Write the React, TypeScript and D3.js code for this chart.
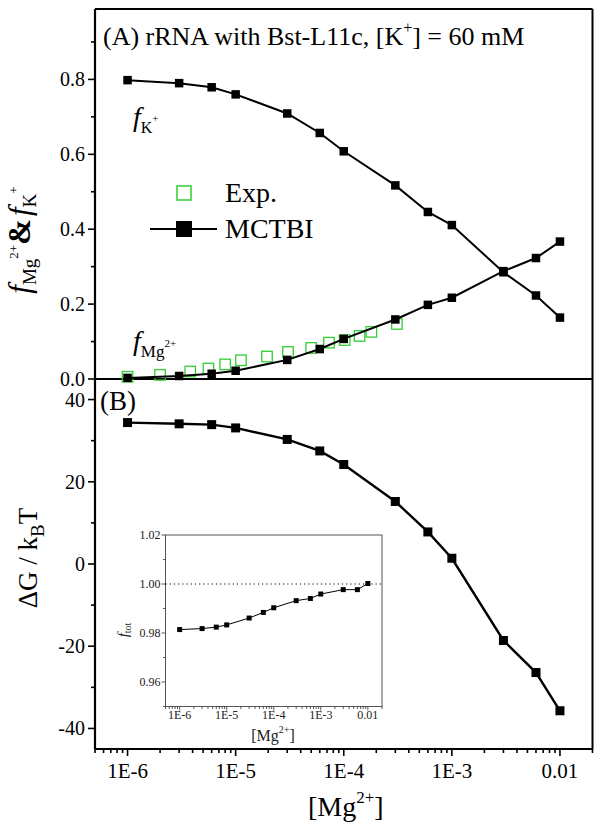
import React from 'react';
import * as d3 from 'd3';

// ---------- data ----------
const mgConc = [1e-6, 3e-6, 6e-6, 1e-5, 3e-5, 6e-5, 1e-4, 3e-4, 6e-4, 1e-3, 3e-3, 6e-3, 1e-2];
const fK = [0.798, 0.79, 0.779, 0.76, 0.709, 0.657, 0.608, 0.517, 0.446, 0.411, 0.285, 0.223, 0.164];
const fMg = [0.003, 0.008, 0.014, 0.022, 0.051, 0.08, 0.107, 0.159, 0.198, 0.217, 0.288, 0.323, 0.367];
const expConc = [1e-6, 2e-6, 3.8e-6, 5.6e-6, 8e-6, 1.12e-5, 1.95e-5, 3.05e-5, 5e-5, 7.3e-5, 1.02e-4, 1.4e-4, 1.8e-4, 3.1e-4];
const expFMg = [0.006, 0.011, 0.02, 0.028, 0.039, 0.05, 0.06, 0.072, 0.083, 0.097, 0.104, 0.115, 0.126, 0.147];
const deltaG = [34.4, 34.1, 33.9, 33.1, 30.3, 27.5, 24.2, 15.2, 7.8, 1.4, -18.6, -26.4, -35.7];
const fTot = [0.9814, 0.9818, 0.9824, 0.9833, 0.9861, 0.9884, 0.9903, 0.9932, 0.9941, 0.9959, 0.9977, 0.9977, 1.0002];

const xTicks = [1e-6, 1e-5, 1e-4, 1e-3, 1e-2];
const xTickLabels = ['1E-6', '1E-5', '1E-4', '1E-3', '0.01'];
const topYTicks = [0, 0.2, 0.4, 0.6, 0.8];
const topYTickLabels = ['0.0', '0.2', '0.4', '0.6', '0.8'];
const topYMinor = [0.1, 0.3, 0.5, 0.7, 0.9];
const botYTicks = [-40, -20, 0, 20, 40];
const botYTickLabels = ['-40', '-20', '0', '20', '40'];
const botYMinor = [-30, -10, 10, 30];
const insetYTicks = [0.96, 0.98, 1.0, 1.02];
const insetYTickLabels = ['0.96', '0.98', '1.00', '1.02'];
const insetYMinor = [0.95, 0.97, 0.99, 1.01];

const SERIF = '"Liberation Serif", "Times New Roman", Times, serif';
const GREEN = '#33cc33';

// ---------- layout ----------
const L = 95, R = 592.5, T = 9, MID = 379, B = 749;
const xDomain: [number, number] = [5e-7, 2e-2];

function minorLogTicks(domain: [number, number]) {
  const out: number[] = [];
  for (let e = -8; e <= -1; e++) {
    for (let m = 2; m <= 9; m++) {
      const v = m * Math.pow(10, e);
      if (v >= domain[0] && v <= domain[1]) out.push(v);
    }
  }
  return out;
}

export default function App() {
  const x = d3.scaleLog().domain(xDomain).range([L, R]);
  const yTop = d3.scaleLinear().domain([0, 0.988]).range([MID, T]);
  const yBot = d3.scaleLinear().domain([-45, 45]).range([B, MID]);

  const IL = 165.5, IR = 382, IT = 535, IB = 706.5;
  const xi = d3.scaleLog().domain(xDomain).range([IL, IR]);
  const yi = d3.scaleLinear().domain([0.95, 1.02]).range([IB, IT]);

  const lineK = d3.line<number>().x((_, i) => x(mgConc[i])).y((d) => yTop(d))(fK) || '';
  const lineMg = d3.line<number>().x((_, i) => x(mgConc[i])).y((d) => yTop(d))(fMg) || '';
  const lineG = d3.line<number>().x((_, i) => x(mgConc[i])).y((d) => yBot(d))(deltaG) || '';
  const lineTot = d3.line<number>().x((_, i) => xi(mgConc[i])).y((d) => yi(d))(fTot) || '';

  const minorX = minorLogTicks(xDomain);
  const ms = 8.5;
  const msB = 9;
  const msI = 5;
  const me = 10.5;

  return (
    <svg width={604} height={828} style={{ position: 'absolute', left: 0, top: 0, background: '#fff' }} fontFamily={SERIF}>
      <rect x={0} y={0} width={604} height={828} fill="#fff" />

      {/* ===== frames ===== */}
      <g fill="none" stroke="#000" strokeWidth={2}>
        <line x1={L} y1={T} x2={R} y2={T} />
        <line x1={R} y1={T} x2={R} y2={B} />
        <line x1={L} y1={MID} x2={R} y2={MID} />
        <line x1={L} y1={T} x2={L} y2={B} strokeWidth={2.2} />
        <line x1={L} y1={B} x2={R} y2={B} strokeWidth={2.2} />
      </g>

      {/* ===== ticks ===== */}
      <g stroke="#000" strokeWidth={1.6}>
        {topYTicks.map((t) => (
          <line key={'tt' + t} x1={L - 7} x2={L} y1={yTop(t)} y2={yTop(t)} />
        ))}
        {topYMinor.map((t) => (
          <line key={'tm' + t} x1={L - 4} x2={L} y1={yTop(t)} y2={yTop(t)} />
        ))}
        {botYTicks.map((t) => (
          <line key={'bt' + t} x1={L - 7} x2={L} y1={yBot(t)} y2={yBot(t)} />
        ))}
        {botYMinor.map((t) => (
          <line key={'bm' + t} x1={L - 4} x2={L} y1={yBot(t)} y2={yBot(t)} />
        ))}
        {xTicks.map((t) => (
          <line key={'xt' + t} x1={x(t)} x2={x(t)} y1={B} y2={B + 7} />
        ))}
        {minorX.map((t) => (
          <line key={'xm' + t} x1={x(t)} x2={x(t)} y1={B} y2={B + 4} />
        ))}
      </g>
      <g fontSize={20} fill="#000" textAnchor="end">
        {topYTicks.map((t, i) => (
          <text key={'ttl' + t} x={L - 10} y={yTop(t) + 7}>{topYTickLabels[i]}</text>
        ))}
        {botYTicks.map((t, i) => (
          <text key={'btl' + t} x={L - 10} y={yBot(t) + 7}>{botYTickLabels[i]}</text>
        ))}
      </g>
      <g fontSize={21} fill="#000" textAnchor="middle">
        {xTicks.map((t, i) => (
          <text key={'xtl' + t} x={x(t)} y={778}>{xTickLabels[i]}</text>
        ))}
      </g>

      {/* ===== axis titles ===== */}
      <text x={308} y={816} fontSize={28}>
        [Mg<tspan fontSize={17} dy={-13}>2+</tspan><tspan dy={13}>]</tspan>
      </text>
      <text transform="translate(30,240) rotate(-90)" textAnchor="middle" fontSize={31}>
        <tspan fontStyle="italic">f</tspan>
        <tspan fontSize={19} dy={6}>Mg</tspan>
        <tspan fontSize={13} dy={-18}>2+</tspan>
        <tspan fontWeight="bold" dy={12}>&amp;</tspan>
        <tspan fontStyle="italic" dx={3}>f</tspan>
        <tspan fontSize={19} dy={6}>K</tspan>
        <tspan fontSize={13} dy={-18}>+</tspan>
      </text>
      <text transform="translate(37,558) rotate(-90)" textAnchor="middle" fontSize={27}>
        ΔG / k<tspan fontSize={19} dy={7}>B</tspan><tspan dy={-7}>T</tspan>
      </text>

      {/* ===== panel labels ===== */}
      <text x={103} y={45} fontSize={26}>
        (A) rRNA with Bst-L11c, [K<tspan fontSize={16} dy={-12}>+</tspan><tspan dy={12}>] = 60 mM</tspan>
      </text>
      <text x={100} y={410} fontSize={27}>(B)</text>

      {/* annotations */}
      <text x={133} y={126} fontSize={28}>
        <tspan fontStyle="italic">f</tspan>
        <tspan fontSize={16} dy={7}>K</tspan>
        <tspan fontSize={11} dy={-11}>+</tspan>
      </text>
      <text x={133} y={350} fontSize={28}>
        <tspan fontStyle="italic">f</tspan>
        <tspan fontSize={17} dy={7}>Mg</tspan>
        <tspan fontSize={11} dy={-10}>2+</tspan>
      </text>

      {/* ===== legend ===== */}
      <rect x={184 - 7} y={193 - 7} width={14} height={14} fill="none" stroke={GREEN} strokeWidth={1.5} />
      <text x={225} y={202} fontSize={28}>Exp.</text>
      <line x1={150} x2={217} y1={229} y2={229} stroke="#000" strokeWidth={2} />
      <rect x={184 - 8} y={229 - 8} width={16} height={16} fill="#000" />
      <text x={225} y={238} fontSize={28}>MCTBI</text>

      {/* ===== top panel data ===== */}
      <g>
        {expConc.map((c, i) => (
          <rect key={'e' + i} x={x(c) - me / 2} y={yTop(expFMg[i]) - me / 2} width={me} height={me} fill="none" stroke={GREEN} strokeWidth={1.3} />
        ))}
      </g>
      <path d={lineK} fill="none" stroke="#000" strokeWidth={2} />
      <path d={lineMg} fill="none" stroke="#000" strokeWidth={2} />
      {mgConc.map((c, i) => (
        <rect key={'k' + i} x={x(c) - ms / 2} y={yTop(fK[i]) - ms / 2} width={ms} height={ms} fill="#000" />
      ))}
      {mgConc.map((c, i) => (
        <rect key={'m' + i} x={x(c) - ms / 2} y={yTop(fMg[i]) - ms / 2} width={ms} height={ms} fill="#000" />
      ))}

      {/* ===== bottom panel data ===== */}
      <path d={lineG} fill="none" stroke="#000" strokeWidth={2.4} />
      {mgConc.map((c, i) => (
        <rect key={'g' + i} x={x(c) - msB / 2} y={yBot(deltaG[i]) - msB / 2} width={msB} height={msB} fill="#000" />
      ))}

      {/* ===== inset ===== */}
      <rect x={IL} y={IT} width={IR - IL} height={IB - IT} fill="#fff" stroke="#555" strokeWidth={1} />
      <line x1={IL} x2={IR} y1={yi(1.0)} y2={yi(1.0)} stroke="#000" strokeWidth={1} strokeDasharray="1.2,3" />
      <g stroke="#333" strokeWidth={0.8}>
        {insetYTicks.map((t) => (
          <line key={'it' + t} x1={IL - 4} x2={IL} y1={yi(t)} y2={yi(t)} />
        ))}
        {insetYMinor.map((t) => (
          <line key={'im' + t} x1={IL - 2.5} x2={IL} y1={yi(t)} y2={yi(t)} />
        ))}
        {xTicks.map((t) => (
          <line key={'ixt' + t} x1={xi(t)} x2={xi(t)} y1={IB} y2={IB + 4} />
        ))}
        {minorX.map((t) => (
          <line key={'ixm' + t} x1={xi(t)} x2={xi(t)} y1={IB} y2={IB + 2.5} />
        ))}
      </g>
      <g fontSize={12} fill="#222" textAnchor="end">
        {insetYTicks.map((t, i) => (
          <text key={'itl' + t} x={IL - 5} y={yi(t) + 4}>{insetYTickLabels[i]}</text>
        ))}
      </g>
      <g fontSize={12} fill="#222" textAnchor="middle">
        {xTicks.map((t, i) => (
          <text key={'ixl' + t} x={xi(t)} y={719}>{xTickLabels[i]}</text>
        ))}
      </g>
      <text x={273} y={741} fontSize={16} textAnchor="middle" fill="#222">
        [Mg<tspan fontSize={10} dy={-8}>2+</tspan><tspan dy={8}>]</tspan>
      </text>
      <text transform="translate(128,630) rotate(-90)" textAnchor="middle" fontSize={15} fill="#222">
        <tspan fontStyle="italic">f</tspan>
        <tspan fontSize={10} dy={3}>tot</tspan>
      </text>
      <path d={lineTot} fill="none" stroke="#000" strokeWidth={1} />
      {mgConc.map((c, i) => (
        <rect key={'t' + i} x={xi(c) - msI / 2} y={yi(fTot[i]) - msI / 2} width={msI} height={msI} fill="#000" />
      ))}
    </svg>
  );
}
